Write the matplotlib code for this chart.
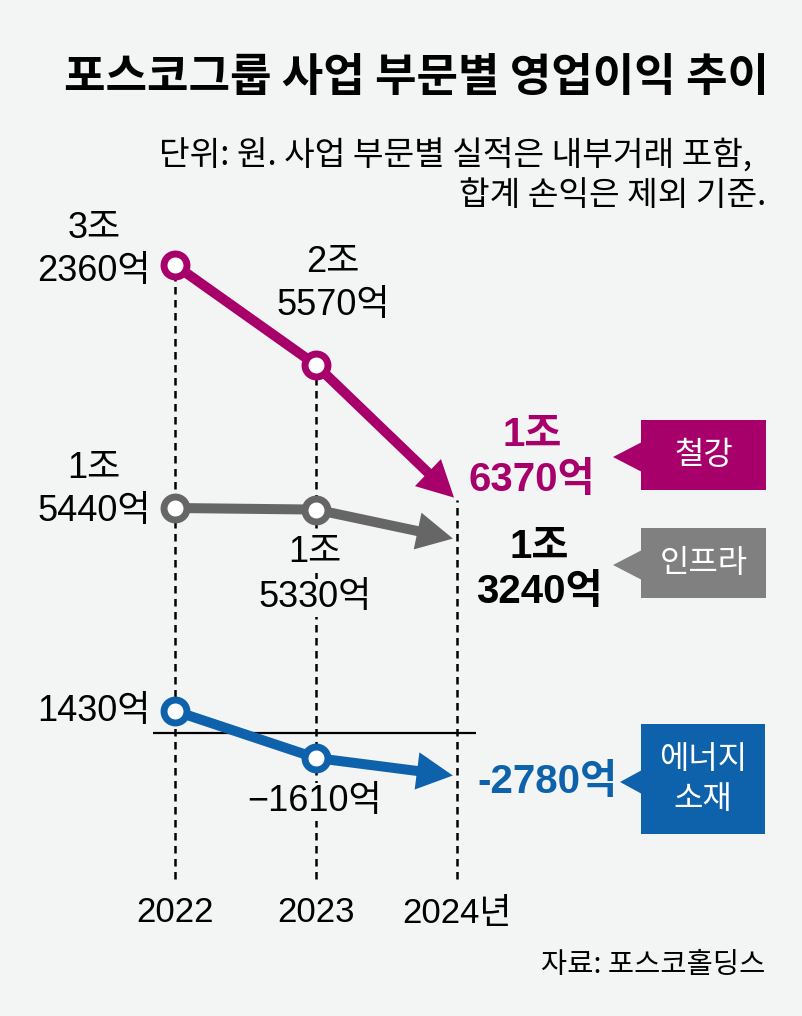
import matplotlib
matplotlib.use("Agg")
import matplotlib.pyplot as plt
from matplotlib import font_manager, transforms
from matplotlib.patches import Polygon, Rectangle

# operating profit, 억원
years = [2022, 2023, 2024]
year_labels = ["2022", "2023", "2024년"]
steel = [32360, 25570, 16370]
infra = [15440, 15330, 13240]
energy = [1430, -1610, -2780]
segments = ["철강", "인프라", "에너지\n소재"]

line_colors = ["#A8006B", "#666666", "#0E62AC"]
box_colors = ["#A8006B", "#808080", "#0E62AC"]
end_colors = ["#A8006B", "#000000", "#0E62AC"]
BG = "#F3F4F4"

names = {f.name for f in font_manager.fontManager.ttflist}
NARROW = "Liberation Sans Narrow" if "Liberation Sans Narrow" in names else "Liberation Sans"
KR = "Noto Sans CJK KR"
num_font = [NARROW, KR]
bold_font = ["Liberation Sans", KR]
NUM_SIZE = 29 if NARROW == "Liberation Sans Narrow" else 26

W, H = 803, 1016
fig = plt.figure(figsize=(W / 100, H / 100), dpi=100, facecolor=BG)

X0, DX = 175, 141  # px of 2022, px per year
BOTTOM = 879       # end of dashed guides


def data_axes(v_ref, px_ref, per_px):
    a = fig.add_axes([0, 0, 1, 1])
    a.set_xlim(2022 - X0 / DX, 2022 + (W - X0) / DX)
    a.set_ylim(v_ref - (H - px_ref) * per_px, v_ref + px_ref * per_px)
    a.axis("off")
    return a


ax_s = data_axes(steel[0], 265, 67.9)
ax_i = data_axes(infra[0], 508, 70.0)
ax_e = data_axes(energy[0], 711, 64.7)

# pixel canvas for texts and boxes, on top of the lines
base = fig.add_axes([0, 0, 1, 1])
base.set_xlim(0, W)
base.set_ylim(H, 0)
base.axis("off")
base.set_zorder(10)

# dashed year guides
lo, hi = ax_s.get_ylim()
y_bottom = hi + (lo - hi) * BOTTOM / H
ax_s.vlines(years, y_bottom, steel, colors="black", lw=1.8,
            linestyles=(0, (3.0, 2.2)), zorder=1)

# zero line for energy
ax_e.hlines(0, 2022 + (153 - X0) / DX, 2022 + (476 - X0) / DX,
            colors="black", lw=1.6, zorder=1)

for a, vals, c in zip([ax_s, ax_i, ax_e], [steel, infra, energy], line_colors):
    a.plot(years[:2], vals[:2], color=c, lw=7.2, solid_capstyle="butt", zorder=3)
    a.annotate("", xy=(years[2], vals[2]), xytext=(years[1], vals[1]),
               arrowprops=dict(arrowstyle="simple,head_length=2.6,head_width=2.7,tail_width=0.72",
                               color=c, lw=0, shrinkA=0, shrinkB=3, mutation_scale=10),
               zorder=3)
    a.plot(years[:2], vals[:2], "o", ms=16.5, mfc="white", mec=c, mew=5, zorder=5)

# year labels
tr = transforms.blended_transform_factory(ax_s.transData, base.transData)
for yr, lab in zip(years, year_labels):
    fig.text(yr, 913, lab, transform=tr, ha="center", va="center",
             fontsize=NUM_SIZE - 1, family=num_font)


def label_lines(v, minus="−"):
    sign = minus if v < 0 else ""
    v = abs(v)
    if v >= 10000:
        return [f"{v // 10000}조", f"{v % 10000}억"]
    return [f"{sign}{v}억"]


# value labels: (x, y of each line) in px
label_pos = [
    [(94, [228, 272]), (333, [262, 305]), (532, [435, 480])],
    [(94, [468, 512]), (315, [553, 598]), (539, [547, 592])],
    [(94, [712]), (315, [802]), (547, [782])],
]
for vals, pos, ec in zip([steel, infra, energy], label_pos, end_colors):
    for k, (v, (x, ys)) in enumerate(zip(vals, pos)):
        lines = label_lines(v, minus="-" if k == 2 else "−")
        for txt, y in zip(lines, ys):
            kw = dict(ha="center", va="center")
            if k == 2:
                kw.update(family=bold_font, weight="bold", color=ec, fontsize=29)
            else:
                kw.update(family=num_font, color="black", fontsize=NUM_SIZE)
            if k == 1 and x == 315:
                kw.update(bbox=dict(facecolor=BG, edgecolor="none", pad=1))
            base.text(x, y, txt, **kw)

# segment boxes with pointers
boxes = [(641, 420, 125, 70), (641, 528, 125, 70), (641, 724, 124, 110)]
tips = [(613, 457, 15), (613, 565, 15), (620, 782, 12)]
for (bx, by, bw, bh), (tx, ty, th), c, name in zip(boxes, tips, box_colors, segments):
    base.add_patch(Rectangle((bx, by), bw, bh, facecolor=c, edgecolor="none"))
    base.add_patch(Polygon([(tx, ty), (bx + 1, ty - th), (bx + 1, ty + th)],
                           closed=True, facecolor=c, edgecolor="none"))
    base.text(bx + bw / 2, by + bh / 2, name, ha="center", va="center",
              fontsize=23, color="white", family=[KR], weight="medium",
              linespacing=1.35)

# title, notes, source
base.text(417, 78, "포스코그룹 사업 부문별 영업이익 추이", ha="center", va="center",
          fontsize=32.5, weight="bold", family=[KR])
base.text(752, 155, "단위: 원. 사업 부문별 실적은 내부거래 포함,", ha="right", va="center",
          fontsize=24, family=[KR])
base.text(766, 195, "합계 손익은 제외 기준.", ha="right", va="center",
          fontsize=24, family=[KR])
base.text(765, 965, "자료: 포스코홀딩스", ha="right", va="center",
          fontsize=20.5, family=[KR])

fig.savefig("out.png", dpi=100, facecolor=BG)
